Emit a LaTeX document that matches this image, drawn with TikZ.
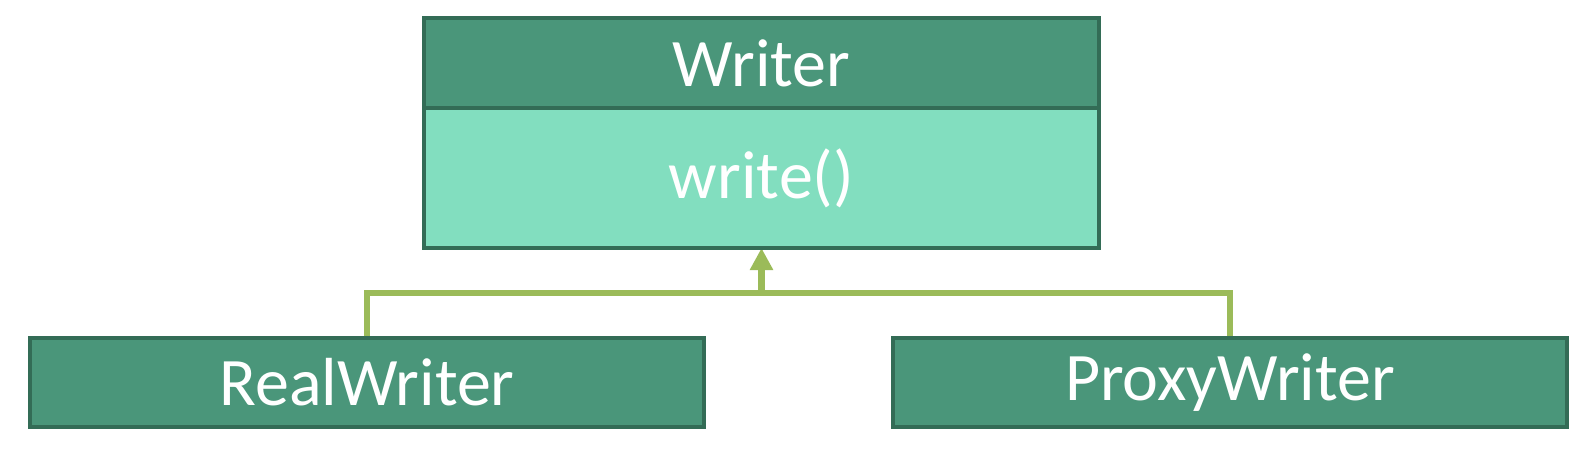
\documentclass[tikz,border=0pt]{standalone}
\usepackage{fontspec}
\setmainfont{Carlito}
\usepackage{tikz}
\usetikzlibrary{positioning}
\usetikzlibrary{arrows.meta}
\definecolor{clsfill}{HTML}{4A967A}
\definecolor{clsline}{HTML}{336C56}
\definecolor{opsfill}{HTML}{82DEBF}
\definecolor{inhline}{HTML}{9BBB59}
\tikzstyle{cls}=[rectangle,draw=clsline,line width=4pt,outer sep=0pt,fill=clsfill,text=white,minimum width=675pt,font=\fontsize{68}{80}\selectfont]
\tikzstyle{ops}=[cls,fill=opsfill,minimum height=140pt]
\tikzstyle{inh}=[draw=inhline,line width=6.5pt]

\begin{document}
\begin{tikzpicture}
	[x=1pt,y=1pt,node distance=0pt]
	\useasboundingbox (0,0) rectangle (1594,448);
	\coordinate (top) at (761.5,430);
	\coordinate (lc) at (367,65.5);
	\coordinate (rc) at (1230,65.5);
	% the two subclasses
	\node (real) [cls,minimum width=674pt,minimum height=89pt] at (lc) {RealWriter};
	\node (proxy) [cls,minimum width=674pt,minimum height=89pt] at (rc) {ProxyWriter};
	% Writer class
	\node (writer) [cls,minimum height=90pt,anchor=north] at (top) {Writer};
	\node (writerops) [ops,below=of writer] {write()};
	% inheritance
	\coordinate (joint) at (writerops.south |- 0,155);
	\path[inh] (real.north) |- (joint) -| (proxy.north);
	\draw[inh,-{Triangle[width=22pt,length=22pt]}] (joint) -- (writerops.south);
	% borders back on top of the lines
	\draw[clsline,line width=4pt] (real.north west) -- (real.north east);
	\draw[clsline,line width=4pt] (proxy.north west) -- (proxy.north east);
	\draw[clsline,line width=4pt] (writerops.south west) -- (writerops.south east);
\end{tikzpicture}
\end{document}
